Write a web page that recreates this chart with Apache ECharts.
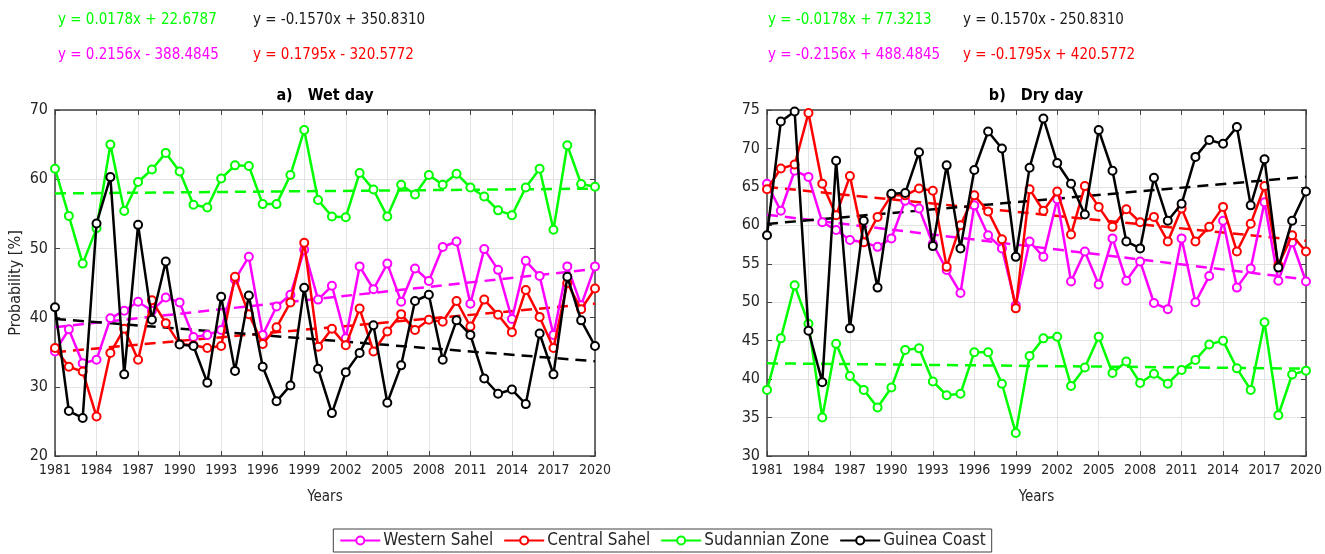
<!DOCTYPE html>
<html>
<head>
<meta charset="utf-8">
<script src="https://cdn.jsdelivr.net/npm/echarts@6/dist/echarts.min.js"></script>
<style>
  html, body { margin: 0; padding: 0; background: #ffffff; }
  #chart { width: 1325px; height: 554px; }
</style>
</head>
<body>
<div id="chart"></div>
<script>
// Years on the horizontal axis
const years = ['1981','1982','1983','1984','1985','1986','1987','1988','1989','1990',
               '1991','1992','1993','1994','1995','1996','1997','1998','1999','2000',
               '2001','2002','2003','2004','2005','2006','2007','2008','2009','2010',
               '2011','2012','2013','2014','2015','2016','2017','2018','2019','2020'];

const regions = ['Western Sahel', 'Central Sahel', 'Sudannian Zone', 'Guinea Coast'];

// Probability of a wet day [%]
const westernWet = [35.1,38.3,33.4,33.9,39.9,41.0,42.3,41.0,42.9,42.2,
                    37.2,37.5,38.2,45.5,48.8,37.5,41.6,43.3,49.8,42.6,
                    44.6,37.0,47.4,44.1,47.8,42.3,47.1,45.3,50.2,51.0,
                    42.0,49.9,46.9,39.8,48.2,46.0,37.5,47.4,41.8,47.4];
const centralWet = [35.6,32.9,32.2,25.7,34.9,38.4,33.9,42.5,39.2,36.2,
                    36.0,35.6,35.9,45.9,40.5,36.2,38.6,42.2,50.8,35.8,
                    38.4,36.0,41.3,35.1,38.0,40.5,38.2,39.7,39.4,42.4,
                    38.7,42.6,40.4,37.9,44.0,40.1,35.6,45.0,41.2,44.2];
const sudanWet   = [61.5,54.7,47.8,52.9,65.0,55.4,59.6,61.4,63.8,61.1,
                    56.3,55.9,60.1,62.0,61.9,56.4,56.4,60.6,67.1,57.0,
                    54.6,54.5,60.9,58.5,54.6,59.2,57.8,60.6,59.2,60.8,
                    58.8,57.5,55.5,54.8,58.8,61.5,52.7,64.9,59.3,58.9];
const guineaWet  = [41.5,26.5,25.5,53.6,60.3,31.8,53.4,39.7,48.1,36.1,
                    35.9,30.6,43.0,32.3,43.2,32.9,27.9,30.2,44.3,32.6,
                    26.2,32.1,34.9,38.9,27.7,33.1,42.4,43.3,33.9,39.6,
                    37.5,31.2,29.0,29.6,27.5,37.7,31.8,45.9,39.6,35.9];

// Probability of a dry day [%]
const westernDry = [65.4,61.9,67.1,66.3,60.4,59.4,58.1,57.8,57.2,58.3,
                    63.2,62.2,57.6,54.2,51.2,62.6,58.7,57.0,49.6,57.9,
                    55.9,63.4,52.7,56.6,52.3,58.3,52.8,55.3,49.9,49.1,
                    58.3,50.0,53.4,60.6,51.9,54.4,63.0,52.8,57.8,52.7];
const centralDry = [64.7,67.4,67.9,74.6,65.4,61.3,66.4,57.8,61.1,63.9,
                    63.9,64.8,64.5,54.6,60.0,63.9,61.8,58.2,49.2,64.7,
                    61.9,64.4,58.8,65.1,62.4,59.8,62.1,60.4,61.1,57.9,
                    62.2,57.9,59.8,62.4,56.6,60.2,65.1,54.8,58.7,56.6];
const sudanDry   = [38.6,45.3,52.2,47.2,35.0,44.6,40.4,38.6,36.3,38.9,
                    43.8,44.0,39.7,37.9,38.1,43.5,43.5,39.4,33.0,43.0,
                    45.3,45.5,39.1,41.5,45.5,40.8,42.3,39.5,40.7,39.4,
                    41.2,42.5,44.5,45.0,41.4,38.6,47.4,35.3,40.6,41.1];
const guineaDry  = [58.7,73.5,74.8,46.3,39.6,68.4,46.6,60.6,51.9,64.1,
                    64.2,69.5,57.3,67.8,57.0,67.2,72.2,70.0,55.9,67.5,
                    73.9,68.1,65.4,61.4,72.4,67.1,57.9,57.0,66.2,60.6,
                    62.8,68.9,71.1,70.6,72.8,62.6,68.6,54.5,60.6,64.4];

// Linear trend coefficients [slope, intercept], in region order
const wetTrend = [[0.2156, -388.4845], [0.1795, -320.5772], [0.0178, 22.6787], [-0.1570, 350.8310]];
const dryTrend = [[-0.2156, 488.4845], [-0.1795, 420.5772], [-0.0178, 77.3213], [0.1570, -250.8310]];

// Tick values of the two probability axes
const wetTicks = { min: 20, max: 70, step: 10 };
const dryTicks = { min: 30, max: 75, step: 5 };

const colors = ['#ff00ff', '#ff0000', '#00ff00', '#000000'];
const FONT = "'Liberation Sans Narrow','Arial Narrow','DejaVu Sans Condensed',sans-serif";
const TXT = '#262626';

const wetSeries = [westernWet, centralWet, sudanWet, guineaWet];
const drySeries = [westernDry, centralDry, sudanDry, guineaDry];

function equation(c) {
  const a = c[0], b = c[1];
  return 'y = ' + a.toFixed(4) + 'x ' + (b < 0 ? '- ' : '+ ') + Math.abs(b).toFixed(4);
}
function trendLine(c) {
  const x0 = years[0], x1 = years[years.length - 1];
  return [[x0, c[0] * Number(x0) + c[1]], [x1, c[0] * Number(x1) + c[1]]];
}

const grids = [
  { left: 55, right: 730, top: 110, bottom: 98 },
  { left: 767, right: 19, top: 110, bottom: 98 }
];

function xAxes(gi) {
  const base = {
    type: 'category', data: years, gridIndex: gi, boundaryGap: false
  };
  return [
    Object.assign({}, base, {
      position: 'bottom',
      name: 'Years', nameLocation: 'middle', nameGap: 34,
      nameTextStyle: { fontFamily: FONT, fontSize: 15, color: TXT },
      axisLine: { lineStyle: { color: '#404040', width: 1.5 } },
      axisTick: { inside: true, interval: 2, length: 5, lineStyle: { color: '#404040' } },
      axisLabel: { interval: 2, fontFamily: FONT, fontSize: 14, color: TXT, margin: 7 },
      splitLine: { show: true, interval: 2, lineStyle: { color: '#e3e3e3', width: 1 } }
    }),
    Object.assign({}, base, {
      position: 'top',
      axisLine: { lineStyle: { color: '#404040', width: 1.5 } },
      axisTick: { inside: true, interval: 2, length: 5, lineStyle: { color: '#404040' } },
      axisLabel: { show: false },
      splitLine: { show: false }
    })
  ];
}
function yAxes(gi, t, name) {
  const base = { type: 'value', gridIndex: gi, min: t.min, max: t.max, interval: t.step };
  return [
    Object.assign({}, base, {
      position: 'left',
      name: name, nameLocation: 'middle', nameGap: 31,
      nameTextStyle: { fontFamily: FONT, fontSize: 16, color: TXT },
      axisLine: { show: true, lineStyle: { color: '#404040', width: 1.5 } },
      axisTick: { show: true, inside: true, length: 5, lineStyle: { color: '#404040' } },
      axisLabel: { fontFamily: FONT, fontSize: 16, color: TXT, margin: 7 },
      splitLine: { show: true, lineStyle: { color: '#e3e3e3', width: 1 } }
    }),
    Object.assign({}, base, {
      position: 'right',
      axisLine: { show: true, lineStyle: { color: '#404040', width: 1.5 } },
      axisTick: { show: true, inside: true, length: 5, lineStyle: { color: '#404040' } },
      axisLabel: { show: false },
      splitLine: { show: false }
    })
  ];
}

const series = [];
function addPanel(dataSets, trends, xi, yi) {
  dataSets.forEach(function (d, k) {
    series.push({
      name: regions[k], type: 'line', xAxisIndex: xi, yAxisIndex: yi,
      data: d, symbol: 'emptyCircle', symbolSize: 8, z: 3 + k,
      lineStyle: { color: colors[k], width: 2.5 },
      itemStyle: { color: colors[k], borderColor: colors[k], borderWidth: 2 },
      animation: false
    });
  });
  trends.forEach(function (c, k) {
    series.push({
      type: 'line', xAxisIndex: xi, yAxisIndex: yi,
      data: trendLine(c), symbol: 'none', z: 2,
      lineStyle: { color: colors[k], width: 2.5, type: [11, 7] },
      silent: true, animation: false
    });
  });
}
addPanel(wetSeries, wetTrend, 0, 0);
addPanel(drySeries, dryTrend, 2, 2);

// Trend equations, two rows per panel: Sudannian / Guinea, then Western / Central
function eqText(x, y, k, trends) {
  return {
    type: 'text', x: x, y: y,
    style: { text: equation(trends[k]), fill: colors[k] === '#000000' ? '#1a1a1a' : colors[k],
             font: '15px ' + FONT, textAlign: 'left', textVerticalAlign: 'middle' }
  };
}
const graphics = [
  eqText(58, 20, 2, wetTrend), eqText(253, 20, 3, wetTrend),
  eqText(58, 55, 0, wetTrend), eqText(253, 55, 1, wetTrend),
  eqText(768, 20, 2, dryTrend), eqText(963, 20, 3, dryTrend),
  eqText(768, 55, 0, dryTrend), eqText(963, 55, 1, dryTrend),
  { type: 'text', x: 325, y: 96,
    style: { text: 'a)   Wet day', fill: '#000', font: 'bold 16px ' + FONT,
             textAlign: 'center', textVerticalAlign: 'middle' } },
  { type: 'text', x: 1036, y: 96,
    style: { text: 'b)   Dry day', fill: '#000', font: 'bold 16px ' + FONT,
             textAlign: 'center', textVerticalAlign: 'middle' } }
];

const chart = echarts.init(document.getElementById('chart'), null, { renderer: 'canvas' });
chart.setOption({
  animation: false,
  backgroundColor: '#ffffff',
  grid: grids,
  xAxis: xAxes(0).concat(xAxes(1)),
  yAxis: yAxes(0, wetTicks, 'Probability [%]').concat(yAxes(1, dryTicks, '')),
  legend: {
    data: regions,
    left: 'center', top: 529,
    orient: 'horizontal',
    itemWidth: 40, itemHeight: 10, itemGap: 10,
    padding: [3, 6, 3, 6],
    borderColor: '#404040', borderWidth: 1,
    backgroundColor: '#ffffff',
    textStyle: { fontFamily: FONT, fontSize: 17, color: TXT, padding: [0, 0, 0, -2] }
  },
  series: series,
  graphic: graphics
});
</script>
</body>
</html>
